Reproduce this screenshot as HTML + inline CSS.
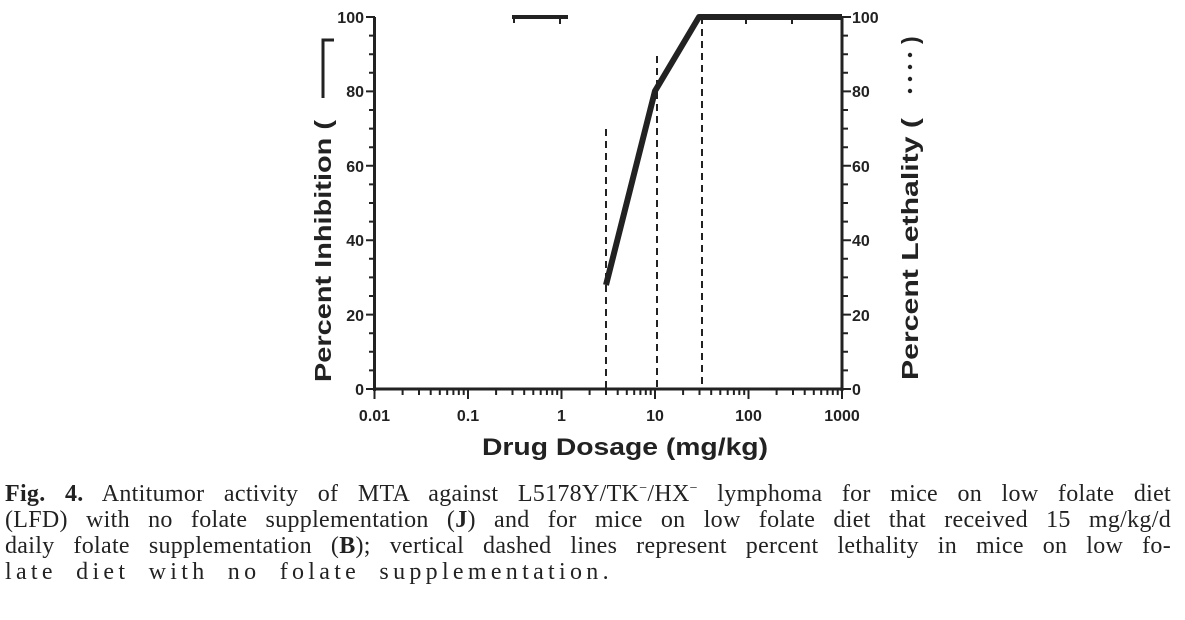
<!DOCTYPE html>
<html><head><meta charset="utf-8"><style>
body{margin:0;background:#fff;width:1185px;height:620px;overflow:hidden;position:relative}
.cap{position:absolute;left:5px;width:1166px;font-family:"Liberation Serif",serif;font-size:24px;color:#222;line-height:26px;white-space:nowrap;letter-spacing:0.3px}
.j{text-align:justify;text-align-last:justify}
sup{font-size:14px;line-height:0}
</style></head><body>
<svg width="1185" height="470" style="position:absolute;left:0;top:0" font-family="Liberation Sans, sans-serif" font-weight="bold" fill="#222">
<g stroke="#222" stroke-width="3">
<line x1="374.5" y1="17" x2="374.5" y2="391"/>
<line x1="842" y1="17" x2="842" y2="391"/>
<line x1="374.5" y1="389" x2="842" y2="389"/>
</g>
<g stroke="#222" stroke-width="2">
<path d="M366 17H375M366 91.4H375M366 165.8H375M366 240.2H375M366 314.6H375M366 389H375"/>
<path d="M369 35.6H375M369 54.2H375M369 72.8H375M369 110H375M369 128.6H375M369 147.2H375M369 184.4H375M369 203H375M369 221.6H375M369 258.8H375M369 277.4H375M369 296H375M369 333.2H375M369 351.8H375M369 370.4H375"/>
<path d="M842 17H851M842 91.4H851M842 165.8H851M842 240.2H851M842 314.6H851M842 389H851"/>
<path d="M842 35.6H848M842 54.2H848M842 72.8H848M842 110H848M842 128.6H848M842 147.2H848M842 184.4H848M842 203H848M842 221.6H848M842 258.8H848M842 277.4H848M842 296H848M842 333.2H848M842 351.8H848M842 370.4H848"/>
<path d="M374.5 389V399M468 389V399M561.5 389V399M655 389V399M748.5 389V399M842 389V399"/>
<path d="M402.6 389V395M419 389V395M430.7 389V395M439.8 389V395M447.2 389V395M453.4 389V395M458.8 389V395M463.7 389V395
M496.1 389V395M512.5 389V395M524.2 389V395M533.3 389V395M540.7 389V395M546.9 389V395M552.3 389V395M557.2 389V395
M589.6 389V395M606 389V395M617.7 389V395M626.8 389V395M634.2 389V395M640.4 389V395M645.8 389V395M650.7 389V395
M683.1 389V395M699.5 389V395M711.2 389V395M720.3 389V395M727.7 389V395M733.9 389V395M739.3 389V395M744.2 389V395
M776.6 389V395M793 389V395M804.7 389V395M813.8 389V395M821.2 389V395M827.4 389V395M832.8 389V395M837.7 389V395"/>
</g>
<g font-size="16" text-anchor="end">
<text x="364" y="23">100</text><text x="364" y="97">80</text><text x="364" y="172">60</text><text x="364" y="246">40</text><text x="364" y="321">20</text><text x="364" y="395">0</text>
</g>
<g font-size="16">
<text x="852" y="23">100</text><text x="852" y="97">80</text><text x="852" y="172">60</text><text x="852" y="246">40</text><text x="852" y="321">20</text><text x="852" y="395">0</text>
</g>
<g font-size="16" text-anchor="middle">
<text x="374.5" y="421">0.01</text><text x="468" y="421">0.1</text><text x="561.5" y="421">1</text><text x="655" y="421">10</text><text x="748.5" y="421">100</text><text x="842" y="421">1000</text>
</g>
<text x="482" y="455" font-size="24" textLength="286" lengthAdjust="spacingAndGlyphs">Drug Dosage  (mg/kg)</text>
<text transform="translate(331,382) rotate(-90)" font-size="23" textLength="262" lengthAdjust="spacingAndGlyphs">Percent Inhibition  (</text>
<path d="M323 98 V40 H334" stroke="#222" stroke-width="3" fill="none"/>
<text transform="translate(918,380) rotate(-90)" font-size="23" textLength="262" lengthAdjust="spacingAndGlyphs">Percent Lethality  (</text>
<g fill="#222"><circle cx="910" cy="55" r="2.2"/><circle cx="910" cy="67" r="2.2"/><circle cx="910" cy="79" r="2.2"/><circle cx="910" cy="91" r="2.2"/></g>
<text transform="translate(918,44) rotate(-90)" font-size="23">)</text>
<g stroke="#222" stroke-width="2" stroke-dasharray="7,5">
<line x1="606" y1="129" x2="606" y2="389"/>
<line x1="657" y1="56" x2="657" y2="389"/>
<line x1="702" y1="17" x2="702" y2="389"/>
</g>
<polyline points="606,285 655,91 699,17 842,17" fill="none" stroke="#222" stroke-width="6" stroke-linejoin="round"/>
<line x1="512" y1="17" x2="568" y2="17" stroke="#222" stroke-width="4"/>
<g stroke="#222" stroke-width="2"><path d="M514 17v6M560 17v7M746 17v7M792 17v7"/></g>
</svg>
<div class="cap j" style="top:481px"><b>Fig. 4.</b> Antitumor activity of MTA against L5178Y/TK<sup>−</sup>/HX<sup>−</sup> lymphoma for mice on low folate diet</div>
<div class="cap j" style="top:507px">(LFD) with no folate supplementation (<b>J</b>) and for mice on low folate diet that received 15 mg/kg/d</div>
<div class="cap j" style="top:533px">daily folate supplementation (<b>B</b>); vertical dashed lines represent percent lethality in mice on low fo-</div>
<div class="cap" style="top:559px;letter-spacing:4.3px;word-spacing:9px">late diet with no folate supplementation.</div>
</body></html>
